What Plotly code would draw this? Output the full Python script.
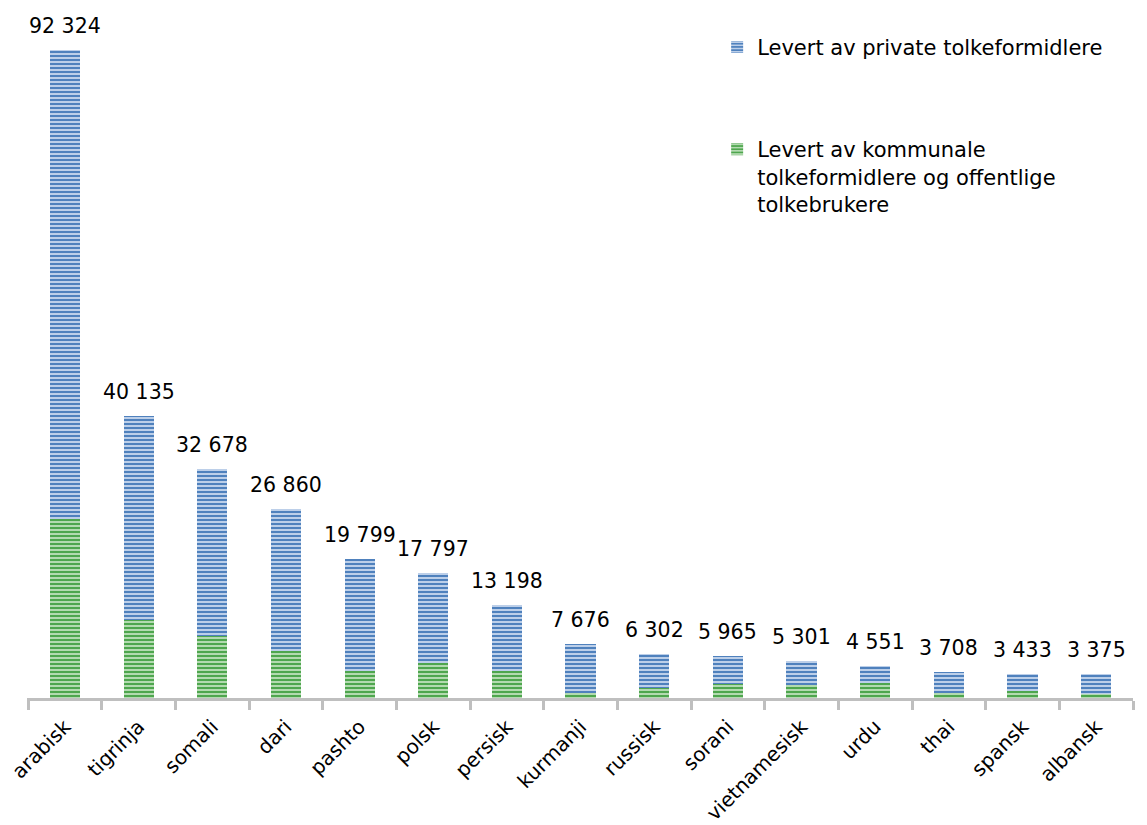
import plotly.graph_objects as go

languages = ["arabisk", "tigrinja", "somali", "dari", "pashto", "polsk", "persisk",
             "kurmanji", "russisk", "sorani", "vietnamesisk", "urdu", "thai", "spansk", "albansk"]
totals = [92324, 40135, 32678, 26860, 19799, 17797, 13198, 7676, 6302, 5965, 5301, 4551, 3708, 3433, 3375]
kommunale = [25500, 11100, 8900, 6700, 3900, 4950, 3800, 700, 1400, 2050, 1800, 2200, 700, 1050, 550]
private = [t - k for t, k in zip(totals, kommunale)]
total_labels = [f"{t:,}".replace(",", " ") for t in totals]

FONT = "DejaVu Sans"
BLUE = "#4f81bd"
BLUE_LIGHT = "#c9d8ee"
GREEN = "#4ea64e"
GREEN_LIGHT = "#bfe0bb"

fig = go.Figure()
fig.add_trace(go.Bar(
    x=languages, y=kommunale,
    name="Levert av kommunale<br>tolkeformidlere og offentlige<br>tolkebrukere",
    legendgroup="g2", legendrank=2,
    marker=dict(color=GREEN, line=dict(width=0),
                pattern=dict(shape="-", size=4, solidity=0.45,
                             fgcolor=GREEN_LIGHT, bgcolor=GREEN, fillmode="replace")),
    hoverinfo="skip",
))
fig.add_trace(go.Bar(
    x=languages, y=private,
    name="Levert av private tolkeformidlere",
    legendgroup="g1", legendrank=1,
    marker=dict(color=BLUE, line=dict(width=0),
                pattern=dict(shape="-", size=4, solidity=0.45,
                             fgcolor=BLUE_LIGHT, bgcolor=BLUE, fillmode="replace")),
    hoverinfo="skip",
))

for lang, t, lab in zip(languages, totals, total_labels):
    fig.add_annotation(x=lang, y=t, text=lab, showarrow=False,
                       yanchor="middle", yshift=24,
                       font=dict(family=FONT, size=20.5, color="black"))

fig.update_layout(
    width=1147, height=825,
    margin=dict(l=27, r=14, t=20, b=127, autoexpand=False),
    paper_bgcolor="white", plot_bgcolor="white",
    barmode="stack", bargap=0.59,
    font=dict(family=FONT, size=21, color="black"),
    showlegend=True,
    legend=dict(x=0.624, y=0.99, xanchor="left", yanchor="top",
                traceorder="grouped", tracegroupgap=72, valign="top",
                font=dict(family=FONT, size=21, color="black"),
                bgcolor="rgba(0,0,0,0)"),
    xaxis=dict(showline=True, linecolor="#bfbfbf", linewidth=3,
               ticks="outside", tickson="boundaries", ticklen=9, tickwidth=3,
               tickcolor="#bfbfbf", tickangle=-45, showgrid=False,
               ticklabelstandoff=6, automargin=False,
               tickfont=dict(family=FONT, size=20, color="black")),
    yaxis=dict(range=[0, 96600], showline=False, showgrid=False, zeroline=False,
               showticklabels=False, ticks="", automargin=False),
)

fig.write_html("out.html")
